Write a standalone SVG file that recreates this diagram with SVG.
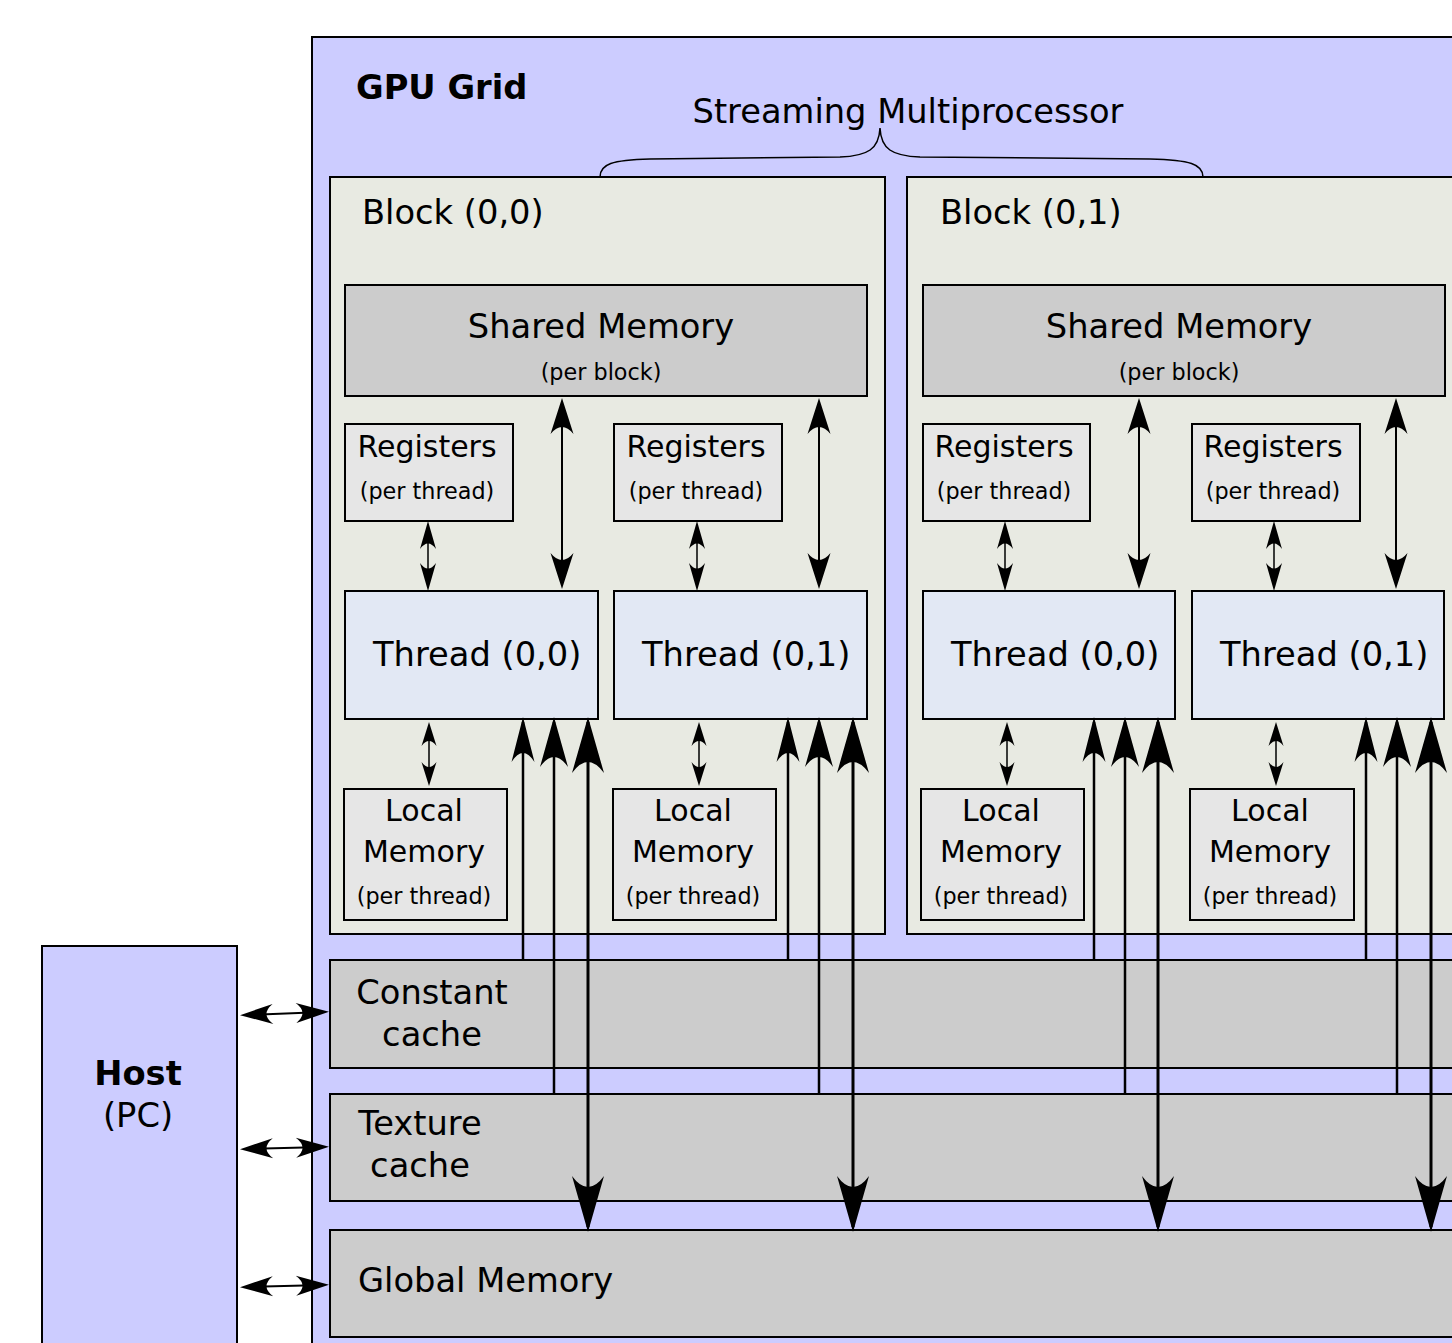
<svg xmlns="http://www.w3.org/2000/svg" width="1452" height="1343" viewBox="0 0 1452 1343">
<style>
text{font-family:"DejaVu Sans","Liberation Sans",sans-serif;fill:#000}
.grid{fill:#ccccff;stroke:#000;stroke-width:2}
.host{fill:#ccccff;stroke:#000;stroke-width:2}
.block{fill:#e8eae2;stroke:#000;stroke-width:2}
.mem{fill:#cccccc;stroke:#000;stroke-width:2}
.reg{fill:#e6e6e6;stroke:#000;stroke-width:2}
.thr{fill:#e2e8f4;stroke:#000;stroke-width:2}
.big{font-size:33.7px}
.mid{font-size:30px}
.sml{font-size:22.3px}
.b{font-weight:bold}
.c{text-anchor:middle}
.ln{fill:none;stroke:#000}
.w15{stroke-width:1.5}
.w2{stroke-width:2}
.w25{stroke-width:2.5}
.w3{stroke-width:3}
</style>
<defs>
<marker id="mSm" markerUnits="userSpaceOnUse" orient="auto-start-reverse" overflow="visible" markerWidth="1" markerHeight="1"><path d="M5,0 L-23,-8 Q-12,0 -23,8 Z" fill="#000"/></marker>
<marker id="mSh" markerUnits="userSpaceOnUse" orient="auto-start-reverse" overflow="visible" markerWidth="1" markerHeight="1"><path d="M5,0 L-31,-11.5 Q-17,0 -31,11.5 Z" fill="#000"/></marker>
<marker id="mTl" markerUnits="userSpaceOnUse" orient="auto-start-reverse" overflow="visible" markerWidth="1" markerHeight="1"><path d="M5,0 L-19,-7.5 Q-9,0 -19,7.5 Z" fill="#000"/></marker>
<marker id="mHo" markerUnits="userSpaceOnUse" orient="auto-start-reverse" overflow="visible" markerWidth="1" markerHeight="1"><path d="M5,0 L-28,-10 Q-15,0 -28,10 Z" fill="#000"/></marker>
<marker id="mC" markerUnits="userSpaceOnUse" orient="auto-start-reverse" overflow="visible" markerWidth="1" markerHeight="1"><path d="M5,0 L-40,-11.5 Q-22,0 -40,11.5 Z" fill="#000"/></marker>
<marker id="mT" markerUnits="userSpaceOnUse" orient="auto-start-reverse" overflow="visible" markerWidth="1" markerHeight="1"><path d="M5,0 L-45,-14 Q-25,0 -45,14 Z" fill="#000"/></marker>
<marker id="mG" markerUnits="userSpaceOnUse" orient="auto-start-reverse" overflow="visible" markerWidth="1" markerHeight="1"><path d="M5,0 L-51,-16 Q-29,0 -51,16 Z" fill="#000"/></marker>
</defs>

<g id="gpu-grid">
<rect class="grid" x="312" y="37" width="1160" height="1330"/>
<text class="big b" x="356" y="99">GPU Grid</text>
</g>

<g id="host">
<rect class="host" x="42" y="946" width="195" height="420"/>
<text class="big b c" x="138" y="1085">Host</text>
<text class="big c" x="138" y="1127">(PC)</text>
</g>

<g id="streaming-multiprocessor">
<path class="ln w15" d="M600,177 C600,164 612,160 650,159 L840,157 C868,156 879,149 880,128 C881,149 892,156 920,157 L1150,159 C1190,160 1203,164 1203,177"/>
<text class="big c" x="908" y="123">Streaming Multiprocessor</text>
</g>

<g id="block-0-0">
<rect class="block" x="330" y="177" width="555" height="757"/>
<text class="big" x="362" y="224">Block (0,0)</text>
</g>
<g id="block-0-1">
<rect class="block" x="907" y="177" width="580" height="757"/>
<text class="big" x="940" y="224">Block (0,1)</text>
</g>

<g id="b0-shared">
<rect class="mem" x="345" y="285" width="522" height="111"/>
<text class="big c" x="601" y="338">Shared Memory</text>
<text class="sml c" x="601" y="380">(per block)</text>
</g>
<g id="b1-shared">
<rect class="mem" x="923" y="285" width="522" height="111"/>
<text class="big c" x="1179" y="338">Shared Memory</text>
<text class="sml c" x="1179" y="380">(per block)</text>
</g>

<g id="b0-reg0">
<rect class="reg" x="345" y="424" width="168" height="97"/>
<text class="mid c" x="427" y="457">Registers</text>
<text class="sml c" x="427" y="499">(per thread)</text>
</g>
<g id="b0-reg1">
<rect class="reg" x="614" y="424" width="168" height="97"/>
<text class="mid c" x="696" y="457">Registers</text>
<text class="sml c" x="696" y="499">(per thread)</text>
</g>
<g id="b1-reg0">
<rect class="reg" x="923" y="424" width="167" height="97"/>
<text class="mid c" x="1004" y="457">Registers</text>
<text class="sml c" x="1004" y="499">(per thread)</text>
</g>
<g id="b1-reg1">
<rect class="reg" x="1192" y="424" width="168" height="97"/>
<text class="mid c" x="1273" y="457">Registers</text>
<text class="sml c" x="1273" y="499">(per thread)</text>
</g>

<g id="b0-thread0">
<rect class="thr" x="345" y="591" width="253" height="128"/>
<text class="big" x="373" y="666">Thread (0,0)</text>
</g>
<g id="b0-thread1">
<rect class="thr" x="614" y="591" width="253" height="128"/>
<text class="big" x="642" y="666">Thread (0,1)</text>
</g>
<g id="b1-thread0">
<rect class="thr" x="923" y="591" width="252" height="128"/>
<text class="big" x="951" y="666">Thread (0,0)</text>
</g>
<g id="b1-thread1">
<rect class="thr" x="1192" y="591" width="252" height="128"/>
<text class="big" x="1220" y="666">Thread (0,1)</text>
</g>

<g id="b0-local0">
<rect class="reg" x="344" y="789" width="163" height="131"/>
<text class="mid c" x="424" y="821">Local</text>
<text class="mid c" x="424" y="862">Memory</text>
<text class="sml c" x="424" y="904">(per thread)</text>
</g>
<g id="b0-local1">
<rect class="reg" x="613" y="789" width="163" height="131"/>
<text class="mid c" x="693" y="821">Local</text>
<text class="mid c" x="693" y="862">Memory</text>
<text class="sml c" x="693" y="904">(per thread)</text>
</g>
<g id="b1-local0">
<rect class="reg" x="921" y="789" width="163" height="131"/>
<text class="mid c" x="1001" y="821">Local</text>
<text class="mid c" x="1001" y="862">Memory</text>
<text class="sml c" x="1001" y="904">(per thread)</text>
</g>
<g id="b1-local1">
<rect class="reg" x="1190" y="789" width="164" height="131"/>
<text class="mid c" x="1270" y="821">Local</text>
<text class="mid c" x="1270" y="862">Memory</text>
<text class="sml c" x="1270" y="904">(per thread)</text>
</g>

<g id="constant-cache">
<rect class="mem" x="330" y="960" width="1150" height="108"/>
<text class="big c" x="432" y="1004">Constant</text>
<text class="big c" x="432" y="1046">cache</text>
</g>
<g id="texture-cache">
<rect class="mem" x="330" y="1094" width="1150" height="107"/>
<text class="big c" x="420" y="1135">Texture</text>
<text class="big c" x="420" y="1177">cache</text>
</g>
<g id="global-memory">
<rect class="mem" x="330" y="1230" width="1150" height="107"/>
<text class="big" x="358" y="1292">Global Memory</text>
</g>

<g id="connectors">
<line class="ln w15" x1="428" y1="526" x2="428" y2="586" marker-start="url(#mSm)" marker-end="url(#mSm)"/>
<line class="ln w15" x1="697" y1="526" x2="697" y2="586" marker-start="url(#mSm)" marker-end="url(#mSm)"/>
<line class="ln w15" x1="1005" y1="526" x2="1005" y2="586" marker-start="url(#mSm)" marker-end="url(#mSm)"/>
<line class="ln w15" x1="1274" y1="526" x2="1274" y2="586" marker-start="url(#mSm)" marker-end="url(#mSm)"/>
<line class="ln w2" x1="562" y1="403" x2="562" y2="584" marker-start="url(#mSh)" marker-end="url(#mSh)"/>
<line class="ln w2" x1="819" y1="403" x2="819" y2="584" marker-start="url(#mSh)" marker-end="url(#mSh)"/>
<line class="ln w2" x1="1139" y1="403" x2="1139" y2="584" marker-start="url(#mSh)" marker-end="url(#mSh)"/>
<line class="ln w2" x1="1396" y1="403" x2="1396" y2="584" marker-start="url(#mSh)" marker-end="url(#mSh)"/>
<line class="ln w15" x1="429" y1="727" x2="429" y2="781" marker-start="url(#mTl)" marker-end="url(#mTl)"/>
<line class="ln w15" x1="699" y1="727" x2="699" y2="781" marker-start="url(#mTl)" marker-end="url(#mTl)"/>
<line class="ln w15" x1="1007" y1="727" x2="1007" y2="781" marker-start="url(#mTl)" marker-end="url(#mTl)"/>
<line class="ln w15" x1="1276" y1="727" x2="1276" y2="781" marker-start="url(#mTl)" marker-end="url(#mTl)"/>
<line class="ln w25" x1="523" y1="960" x2="523" y2="722" marker-end="url(#mC)"/>
<line class="ln w25" x1="788" y1="960" x2="788" y2="722" marker-end="url(#mC)"/>
<line class="ln w25" x1="1094" y1="960" x2="1094" y2="722" marker-end="url(#mC)"/>
<line class="ln w25" x1="1366" y1="960" x2="1366" y2="722" marker-end="url(#mC)"/>
<line class="ln w25" x1="554" y1="1094" x2="554" y2="722" marker-end="url(#mT)"/>
<line class="ln w25" x1="819" y1="1094" x2="819" y2="722" marker-end="url(#mT)"/>
<line class="ln w25" x1="1125" y1="1094" x2="1125" y2="722" marker-end="url(#mT)"/>
<line class="ln w25" x1="1397" y1="1094" x2="1397" y2="722" marker-end="url(#mT)"/>
<line class="ln w3" x1="588" y1="722" x2="588" y2="1227" marker-start="url(#mG)" marker-end="url(#mG)"/>
<line class="ln w3" x1="853" y1="722" x2="853" y2="1227" marker-start="url(#mG)" marker-end="url(#mG)"/>
<line class="ln w3" x1="1158" y1="722" x2="1158" y2="1227" marker-start="url(#mG)" marker-end="url(#mG)"/>
<line class="ln w3" x1="1431" y1="722" x2="1431" y2="1227" marker-start="url(#mG)" marker-end="url(#mG)"/>
<line class="ln w2" x1="245" y1="1015" x2="324" y2="1012" marker-start="url(#mHo)" marker-end="url(#mHo)"/>
<line class="ln w2" x1="245" y1="1149" x2="324" y2="1147" marker-start="url(#mHo)" marker-end="url(#mHo)"/>
<line class="ln w2" x1="245" y1="1287" x2="324" y2="1285" marker-start="url(#mHo)" marker-end="url(#mHo)"/>
</g>
</svg>
